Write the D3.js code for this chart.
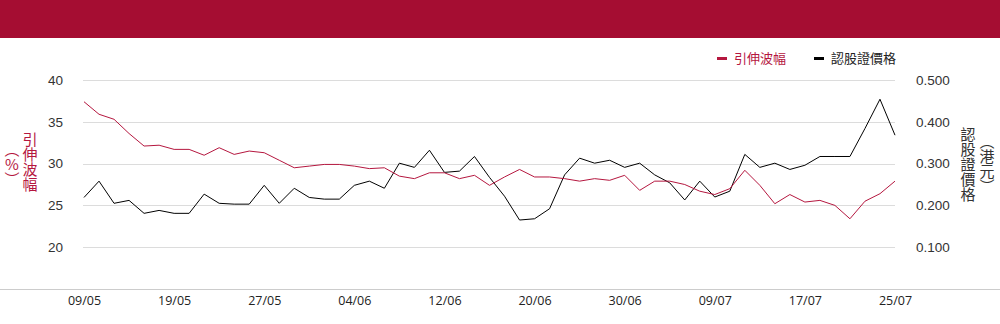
<!DOCTYPE html>
<html>
<head>
<meta charset="utf-8">
<script src="https://cdn.jsdelivr.net/npm/d3@7"></script>
<style>
  html, body { margin: 0; padding: 0; background: #fff; }
  svg { display: block; font-family: "Liberation Sans", Arial, "Noto Sans CJK TC", sans-serif; }
  .cjk { font-family: "Noto Sans CJK TC", "Noto Sans CJK SC", sans-serif; }
</style>
</head>
<body>
<div id="plot"></div>
<script>
var dates = ["09/05","12/05","13/05","14/05","15/05","16/05","19/05","20/05","21/05","22/05","23/05","26/05",
  "27/05","28/05","29/05","30/05","02/06","03/06","04/06","05/06","06/06","09/06","10/06","11/06",
  "12/06","13/06","16/06","17/06","18/06","19/06","20/06","23/06","24/06","25/06","26/06","27/06",
  "30/06","02/07","03/07","04/07","07/07","08/07","09/07","10/07","11/07","14/07","15/07","16/07",
  "17/07","18/07","21/07","22/07","23/07","24/07","25/07"];

// implied volatility (%)
var vol = [37.4,35.9,35.3,33.6,32.1,32.2,31.7,31.7,31.0,31.9,31.1,31.5,
  31.3,30.4,29.5,29.7,29.9,29.9,29.7,29.4,29.5,28.5,28.2,28.9,
  28.9,28.2,28.6,27.4,28.4,29.3,28.4,28.4,28.2,27.9,28.2,28.0,
  28.6,26.8,27.9,27.9,27.5,26.7,26.3,27.0,29.2,27.4,25.2,26.3,
  25.4,25.6,25.0,23.4,25.5,26.4,27.9];

// warrant price (HKD)
var price = [0.219,0.258,0.205,0.212,0.181,0.188,0.181,0.181,0.227,0.205,0.203,0.203,
  0.248,0.205,0.241,0.219,0.215,0.215,0.248,0.258,0.241,0.301,0.291,0.332,
  0.279,0.282,0.317,0.267,0.222,0.165,0.168,0.192,0.273,0.313,0.301,0.308,
  0.291,0.301,0.273,0.254,0.213,0.258,0.220,0.234,0.322,0.291,0.301,0.286,
  0.296,0.317,0.317,0.317,0.384,0.454,0.368];

var leftTicks = [20, 25, 30, 35, 40];
var rightTicks = [0.1, 0.2, 0.3, 0.4, 0.5];
var xTickEvery = 6;

var seriesNames = ["引伸波幅", "認股證價格"];
var colors = { vol: "#b5173f", price: "#000000", banner: "#a50d32", grid: "#dcdcdc", text: "#333333" };

var W = 1000, H = 324;
var margin = { top: 80, right: 105, bottom: 35, left: 84 };

var svg = d3.select("#plot").append("svg")
    .attr("width", W)
    .attr("height", H);

// top banner
svg.append("rect")
    .attr("x", 0).attr("y", 0)
    .attr("width", W).attr("height", 38)
    .style("fill", colors.banner);

var x = d3.scalePoint()
    .domain(d3.range(dates.length))
    .range([margin.left, W - margin.right]);

var yL = d3.scaleLinear().domain([15, 40]).range([289, 80]);
var yR = d3.scaleLinear().domain([0, 0.5]).range([289, 80]);

// gridlines
svg.append("g").selectAll("line")
    .data(leftTicks)
    .enter().append("line")
    .attr("x1", margin.left - 1)
    .attr("x2", W - margin.right)
    .attr("y1", function(d) { return Math.round(yL(d)) + 0.5; })
    .attr("y2", function(d) { return Math.round(yL(d)) + 0.5; })
    .style("stroke", colors.grid)
    .style("stroke-width", 1);

// bottom line
svg.append("line")
    .attr("x1", 0).attr("x2", W)
    .attr("y1", 289.5).attr("y2", 289.5)
    .style("stroke", "#cccccc");

// left axis
var leftAxis = svg.append("g")
    .attr("transform", "translate(63,0)")
    .call(d3.axisLeft(yL).tickValues(leftTicks).tickSize(0).tickPadding(0));
leftAxis.select(".domain").remove();
leftAxis.selectAll("text")
    .style("font-size", "13.5px")
    .style("fill", colors.text)
    .style("font-family", "'Liberation Sans', Arial, sans-serif");

// right axis
var rightAxis = svg.append("g")
    .attr("transform", "translate(916,0)")
    .call(d3.axisRight(yR).tickValues(rightTicks).tickSize(0).tickPadding(0).tickFormat(d3.format(".3f")));
rightAxis.select(".domain").remove();
rightAxis.selectAll("text")
    .style("font-size", "13.5px")
    .style("fill", colors.text)
    .style("font-family", "'Liberation Sans', Arial, sans-serif");

// x axis
var xAxis = svg.append("g")
    .attr("transform", "translate(0,296)")
    .call(d3.axisBottom(x)
      .tickValues(d3.range(0, dates.length, xTickEvery))
      .tickFormat(function(i) { return dates[i]; })
      .tickSize(0).tickPadding(0));
xAxis.select(".domain").remove();
xAxis.selectAll("text")
    .style("font-size", "12.5px")
    .style("fill", "#222")
    .style("font-family", "'Open Sans', sans-serif");

// lines
var volLine = d3.line()
    .x(function(d, i) { return x(i); })
    .y(function(d) { return yL(d); });
var priceLine = d3.line()
    .x(function(d, i) { return x(i); })
    .y(function(d) { return yR(d); });

svg.append("path")
    .datum(price)
    .attr("d", priceLine)
    .style("fill", "none")
    .style("stroke", colors.price)
    .style("stroke-width", 1);

svg.append("path")
    .datum(vol)
    .attr("d", volLine)
    .style("fill", "none")
    .style("stroke", colors.vol)
    .style("stroke-width", 1);

// axis titles (vertical)
function vText(xp, yp, txt, color) {
  svg.append("text")
      .attr("class", "cjk")
      .attr("x", xp).attr("y", yp)
      .attr("text-anchor", "middle")
      .style("writing-mode", "vertical-rl")
      .style("text-orientation", "upright")
      .style("font-size", "15px")
      .style("fill", color)
      .text(txt);
}
vText(30, 162, "引伸波幅", colors.vol);
vText(12, 164, "（%）", colors.vol);
vText(968, 164, "認股證價格", colors.text);
vText(987, 164, "（港元）", colors.text);

// legend
var legend = svg.append("g");
var legendItems = [
  { name: seriesNames[0], color: colors.vol, x: 717, tx: 734 },
  { name: seriesNames[1], color: colors.price, x: 814, tx: 831 }
];
legendItems.forEach(function(d) {
  legend.append("rect")
      .attr("x", d.x).attr("y", 57)
      .attr("width", 10).attr("height", 3)
      .style("fill", d.color);
  legend.append("text")
      .attr("class", "cjk")
      .attr("x", d.tx).attr("y", 63)
      .style("font-size", "13px")
      .style("fill", d.color === colors.price ? "#222" : d.color)
      .text(d.name);
});
</script>
</body>
</html>
